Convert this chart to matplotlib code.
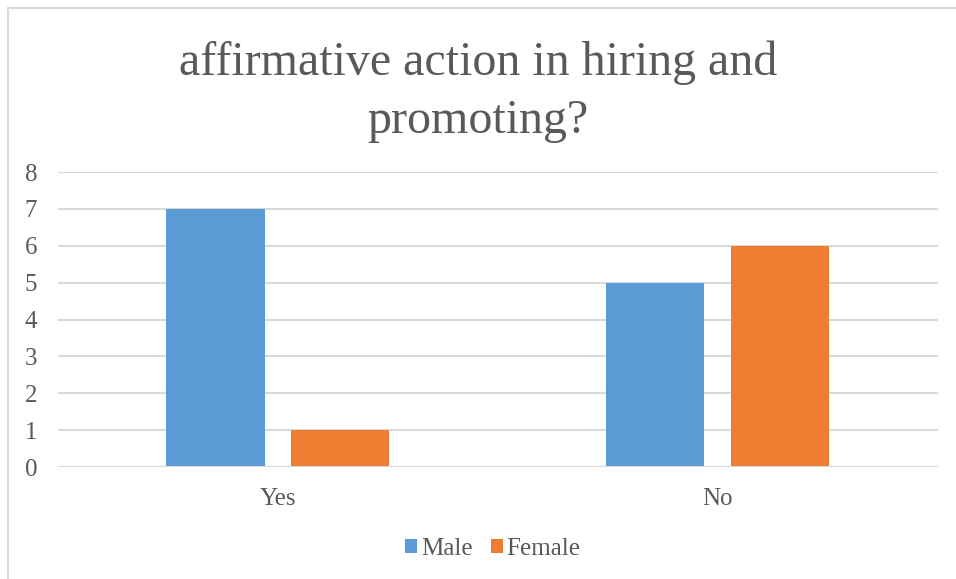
# Grouped bar chart: affirmative action survey by gender
import numpy as np
import matplotlib.pyplot as plt
from matplotlib.patches import Rectangle

CATEGORIES = ["Yes", "No"]
MALE = [7, 5]
FEMALE = [1, 6]
Y_TICKS = [0, 1, 2, 3, 4, 5, 6, 7, 8]
TITLE = "affirmative action in hiring and\npromoting?"

BLUE = "#5B9BD5"
ORANGE = "#ED7D31"
TEXT = "#595959"
GRID = "#D9D9D9"

plt.rcParams["font.family"] = ["Liberation Serif", "DejaVu Serif"]

fig = plt.figure(figsize=(9.56, 5.79), dpi=100)
ax = fig.add_axes([0.0607, 0.1934, 0.9203, 0.5095])

x = np.arange(len(CATEGORIES))
width = 0.223
offset = 0.142
ax.bar(x - offset, MALE, width, color=BLUE, label="Male", zorder=3)
ax.bar(x + offset, FEMALE, width, color=ORANGE, label="Female", zorder=3)

ax.set_xlim(-0.5, len(CATEGORIES) - 0.5)
ax.set_ylim(0, 8)
ax.set_yticks(Y_TICKS)
ax.set_xticks(x)
ax.set_xticklabels(CATEGORIES)
ax.tick_params(axis="both", length=0, labelsize=18, colors=TEXT)
ax.tick_params(axis="x", pad=15)
ax.tick_params(axis="y", pad=15)
ax.yaxis.grid(True, color=GRID, linewidth=1.5, zorder=0)
for s in ax.spines.values():
    s.set_visible(False)
ax.axhline(0, color=GRID, linewidth=1.5, zorder=4)

fig.text(0.5, 0.842, TITLE, ha="center", va="center", fontsize=34.6,
         color=TEXT, linespacing=1.42)

ax.legend(loc="center", bbox_to_anchor=(0.5157, 0.052), bbox_transform=fig.transFigure,
          ncol=2, frameon=False, fontsize=18, labelcolor=TEXT,
          handlelength=0.48, handleheight=0.48, handletextpad=0.16, columnspacing=0.7)

# chart area border (cropped on right and bottom)
fig.patches.append(Rectangle((8 / 956, -0.1), 1.2, 1.1 - 8 / 579,
                             transform=fig.transFigure, fill=False,
                             edgecolor=GRID, linewidth=1.5))

fig.savefig("out.png", dpi=100)
